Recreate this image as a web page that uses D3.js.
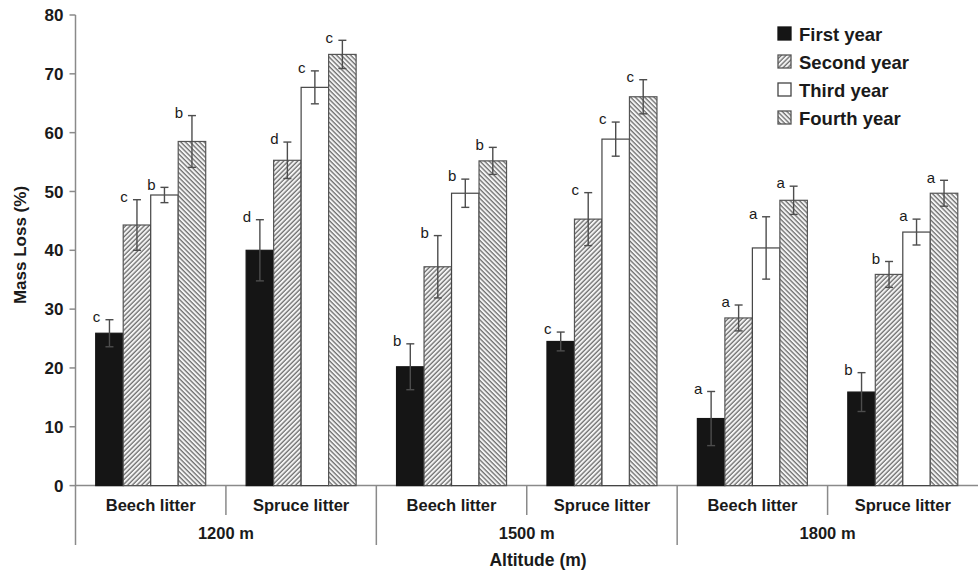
<!DOCTYPE html>
<html>
<meta charset="utf-8">
<head>
  <title>Mass loss by altitude</title>
</head>

<style>
body { margin: 0; background: white; }
text {
  font-family: "Liberation Sans", Arial, Helvetica, sans-serif;
  fill: #1a1a1a;
}
.tick-label, .cat-label, .axis-title, .legend-label { font-weight: bold; }
.sig { font-size: 15px; font-weight: normal; text-anchor: middle; }
</style>

<body>
  <div id="chart"></div>

  <script src="https://d3js.org/d3.v7.min.js"></script>
  <script>

var altitudes = ['1200 m', '1500 m', '1800 m'];
var litters = ['Beech litter', 'Spruce litter'];
var years = ['First year', 'Second year', 'Third year', 'Fourth year'];
var yTicks = [0, 10, 20, 30, 40, 50, 60, 70, 80];

// one value per altitude x litter, in order 1200 beech, 1200 spruce, 1500 beech ...
var firstYear   = [25.9, 40.0, 20.2, 24.5, 11.4, 15.9];
var secondYear  = [44.3, 55.3, 37.2, 45.3, 28.5, 35.9];
var thirdYear   = [49.4, 67.7, 49.7, 58.9, 40.4, 43.1];
var fourthYear  = [58.5, 73.3, 55.2, 66.1, 48.5, 49.7];

var firstErr  = [2.3, 5.2, 3.9, 1.6, 4.6, 3.3];
var secondErr = [4.3, 3.1, 5.3, 4.5, 2.2, 2.2];
var thirdErr  = [1.3, 2.8, 2.4, 2.9, 5.3, 2.2];
var fourthErr = [4.4, 2.4, 2.3, 2.9, 2.4, 2.2];

var firstSig  = ['c', 'd', 'b', 'c', 'a', 'b'];
var secondSig = ['c', 'd', 'b', 'c', 'a', 'b'];
var thirdSig  = ['b', 'c', 'b', 'c', 'a', 'a'];
var fourthSig = ['b', 'c', 'b', 'c', 'a', 'a'];

var values = [firstYear, secondYear, thirdYear, fourthYear];
var errors = [firstErr, secondErr, thirdErr, fourthErr];
var sigs = [firstSig, secondSig, thirdSig, fourthSig];

var categories = [];
altitudes.forEach(function(a) {
  litters.forEach(function(l) { categories.push(a + '|' + l); });
});

var rows = [];
categories.forEach(function(c, i) {
  years.forEach(function(yr, j) {
    rows.push({cat: c, year: yr, yi: j, value: values[j][i], err: errors[j][i], sig: sigs[j][i]});
  });
});

const width = 978, height = 571;
const plotLeft = 75.5, plotRight = 978, plotTop = 15, plotBottom = 485.6;

const svg = d3.select('#chart')
  .append('svg')
  .attr('width', width)
  .attr('height', height);

// hatch patterns
var defs = svg.append('defs');
function hatch(id, angle) {
  var p = defs.append('pattern')
    .attr('id', id)
    .attr('patternUnits', 'userSpaceOnUse')
    .attr('width', 3.3)
    .attr('height', 3.3)
    .attr('patternTransform', 'rotate(' + angle + ')');
  p.append('rect').attr('width', 3.3).attr('height', 3.3).attr('fill', '#f4f4f4');
  p.append('line')
    .attr('x1', 1).attr('y1', 0).attr('x2', 1).attr('y2', 3.3)
    .attr('stroke', '#6e6e6e')
    .attr('stroke-width', 1.3);
}
hatch('hatchSecond', 45);
hatch('hatchFourth', -45);

var fills = ['#151515', 'url(#hatchSecond)', '#ffffff', 'url(#hatchFourth)'];
var strokes = ['#151515', '#555', '#444', '#555'];

var x0 = d3.scaleBand().domain(categories).range([plotLeft, plotRight]).padding(0);
var x1 = d3.scaleBand().domain(years).range([0, x0.bandwidth()])
  .paddingInner(0).paddingOuter(0.735);
var y = d3.scaleLinear().domain([0, 80]).range([plotBottom, plotTop]);

// y axis
svg.append('line')
  .attr('x1', plotLeft).attr('x2', plotLeft)
  .attr('y1', plotTop).attr('y2', 545)
  .attr('stroke', '#8a8a8a').attr('stroke-width', 1.5);

var yt = svg.append('g');
yt.selectAll('line')
  .data(yTicks)
  .enter()
  .append('line')
  .attr('x1', plotLeft - 6).attr('x2', plotLeft)
  .attr('y1', function(d) { return y(d); })
  .attr('y2', function(d) { return y(d); })
  .attr('stroke', '#8a8a8a').attr('stroke-width', 1.5);
yt.selectAll('text')
  .data(yTicks)
  .enter()
  .append('text')
  .attr('class', 'tick-label')
  .attr('x', plotLeft - 12)
  .attr('y', function(d) { return y(d); })
  .attr('dy', '0.36em')
  .attr('text-anchor', 'end')
  .style('font-size', '17px')
  .text(function(d) { return d; });

svg.append('text')
  .attr('class', 'axis-title')
  .attr('transform', 'translate(26,245) rotate(-90)')
  .attr('text-anchor', 'middle')
  .style('font-size', '17px')
  .text('Mass Loss (%)');

// x axis baseline and category dividers
svg.append('line')
  .attr('x1', plotLeft).attr('x2', plotRight)
  .attr('y1', plotBottom).attr('y2', plotBottom)
  .attr('stroke', '#8a8a8a').attr('stroke-width', 1.5);

svg.append('g')
  .selectAll('line')
  .data(categories.slice(1))
  .enter()
  .append('line')
  .attr('x1', function(d) { return x0(d); })
  .attr('x2', function(d) { return x0(d); })
  .attr('y1', plotBottom)
  .attr('y2', function(d) { return d.split('|')[1] === litters[0] ? 545 : 515; })
  .attr('stroke', '#8a8a8a').attr('stroke-width', 1.5);

svg.append('g')
  .selectAll('text')
  .data(categories)
  .enter()
  .append('text')
  .attr('class', 'cat-label')
  .attr('x', function(d) { return x0(d) + x0.bandwidth() / 2; })
  .attr('y', 511)
  .attr('text-anchor', 'middle')
  .style('font-size', '16.5px')
  .text(function(d) { return d.split('|')[1]; });

svg.append('g')
  .selectAll('text')
  .data(altitudes)
  .enter()
  .append('text')
  .attr('class', 'cat-label')
  .attr('x', function(d) { return x0(d + '|' + litters[0]) + x0.bandwidth(); })
  .attr('y', 539)
  .attr('text-anchor', 'middle')
  .style('font-size', '16.5px')
  .text(function(d) { return d; });

svg.append('text')
  .attr('class', 'axis-title')
  .attr('x', 538)
  .attr('y', 566)
  .attr('text-anchor', 'middle')
  .style('font-size', '17.5px')
  .text('Altitude (m)');

// bars
var chart = svg.append('g');
chart.selectAll('rect')
  .data(rows)
  .enter()
  .append('rect')
  .attr('x', function(d) { return x0(d.cat) + x1(d.year); })
  .attr('y', function(d) { return y(d.value); })
  .attr('width', x1.bandwidth())
  .attr('height', function(d) { return y(0) - y(d.value); })
  .attr('fill', function(d) { return fills[d.yi]; })
  .attr('stroke', function(d) { return strokes[d.yi]; })
  .attr('stroke-width', 1.2);

// error bars
function cx(d) { return x0(d.cat) + x1(d.year) + x1.bandwidth() / 2; }
var eb = chart.selectAll('g.err')
  .data(rows)
  .enter()
  .append('g')
  .attr('class', 'err')
  .attr('stroke', '#4d4d4d')
  .attr('stroke-width', 1.4);
eb.append('line')
  .attr('x1', cx).attr('x2', cx)
  .attr('y1', function(d) { return y(d.value - d.err); })
  .attr('y2', function(d) { return y(d.value + d.err); });
eb.append('line')
  .attr('x1', function(d) { return cx(d) - 4; })
  .attr('x2', function(d) { return cx(d) + 4; })
  .attr('y1', function(d) { return y(d.value + d.err); })
  .attr('y2', function(d) { return y(d.value + d.err); });
eb.append('line')
  .attr('x1', function(d) { return cx(d) - 4; })
  .attr('x2', function(d) { return cx(d) + 4; })
  .attr('y1', function(d) { return y(d.value - d.err); })
  .attr('y2', function(d) { return y(d.value - d.err); });

// significance letters
chart.selectAll('text.sig')
  .data(rows)
  .enter()
  .append('text')
  .attr('class', 'sig')
  .attr('x', function(d) { return cx(d) - 13; })
  .attr('y', function(d) { return y(d.value + d.err) - 3; })
  .attr('dy', '0.35em')
  .text(function(d) { return d.sig; });

// legend
var legend = svg.append('g')
  .selectAll('g')
  .data(years)
  .enter()
  .append('g')
  .attr('transform', function(d, i) { return 'translate(778,' + (34 + i * 28) + ')'; });
legend.append('rect')
  .attr('x', 0).attr('y', -7)
  .attr('width', 13).attr('height', 13)
  .attr('fill', function(d, i) { return fills[i]; })
  .attr('stroke', function(d, i) { return strokes[i]; })
  .attr('stroke-width', 1.3);
legend.append('text')
  .attr('class', 'legend-label')
  .attr('x', 21)
  .attr('dy', '0.36em')
  .style('font-size', '18.5px')
  .text(function(d) { return d; });

  </script>
</body>
</html>
